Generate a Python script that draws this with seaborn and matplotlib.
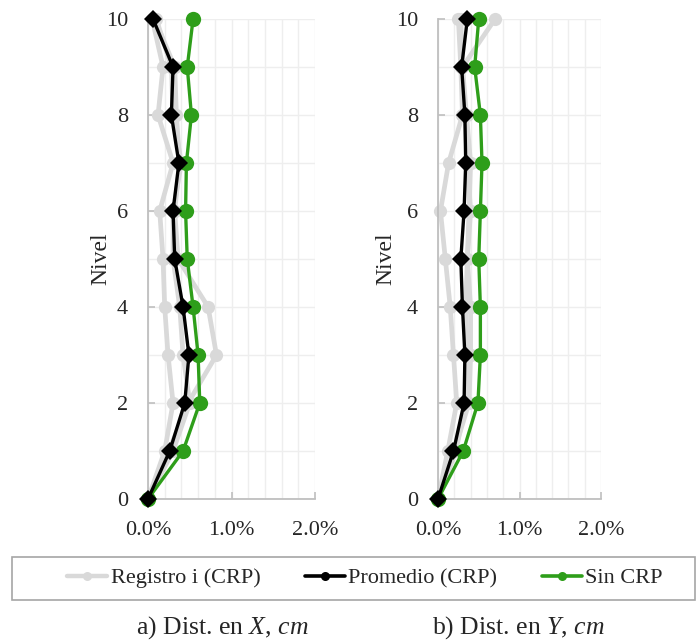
import matplotlib
matplotlib.use("Agg")
import matplotlib.pyplot as plt
from matplotlib.lines import Line2D
from matplotlib.patches import Rectangle
from matplotlib.ticker import MultipleLocator, FuncFormatter
import seaborn as sns

sns.set_theme(style="white")
plt.rcParams["font.family"] = ["Liberation Serif", "DejaVu Serif"]
plt.rcParams["mathtext.fontset"] = "custom"
plt.rcParams["mathtext.it"] = "Liberation Serif:italic"
plt.rcParams["mathtext.rm"] = "Liberation Serif"

niveles = [0, 1, 2, 3, 4, 5, 6, 7, 8, 9, 10]

# Drift profiles (%), direction X
x_registros = [
    [0, 0.20, 0.30, 0.24, 0.20, 0.18, 0.14, 0.30, 0.12, 0.18, 0.05],
    [0, 0.25, 0.48, 0.82, 0.72, 0.36, 0.32, 0.38, 0.34, 0.32, 0.08],
    [0, 0.30, 0.50, 0.42, 0.38, 0.30, 0.30, 0.40, 0.30, 0.28, 0.10],
]
x_promedio = [0, 0.26, 0.44, 0.49, 0.42, 0.32, 0.30, 0.37, 0.28, 0.30, 0.06]
x_sin_crp = [0, 0.42, 0.62, 0.60, 0.54, 0.47, 0.45, 0.46, 0.52, 0.47, 0.54]

# Drift profiles (%), direction Y
y_registros = [
    [0, 0.12, 0.23, 0.19, 0.15, 0.09, 0.03, 0.13, 0.30, 0.28, 0.25],
    [0, 0.20, 0.38, 0.40, 0.40, 0.36, 0.40, 0.36, 0.33, 0.30, 0.70],
    [0, 0.22, 0.34, 0.36, 0.34, 0.36, 0.38, 0.40, 0.35, 0.30, 0.28],
]
y_promedio = [0, 0.19, 0.32, 0.33, 0.30, 0.28, 0.32, 0.34, 0.33, 0.29, 0.36]
y_sin_crp = [0, 0.31, 0.49, 0.52, 0.52, 0.50, 0.52, 0.54, 0.52, 0.45, 0.50]

x_ticks = [0.0, 1.0, 2.0]
y_ticks = [0, 2, 4, 6, 8, 10]
legend_labels = ["Registro i (CRP)", "Promedio (CRP)", "Sin CRP"]
captions = ["a) Dist. en $\\mathit{X}$, $\\mathit{cm}$",
            "b) Dist. en $\\mathit{Y}$, $\\mathit{cm}$"]

GRAY = "#d9d9d9"
BLACK = "#000000"
GREEN = "#2e9e1a"
SPINE = "#bfbfbf"
GRID = "#eeeeee"

W, H = 698, 644
fig = plt.figure(figsize=(W / 100, H / 100), dpi=100)
ax_x = fig.add_axes([148 / W, 145 / H, 167 / W, 480 / H])
ax_y = fig.add_axes([438 / W, 145 / H, 163 / W, 480 / H])


def profile(ax, vals, **kw):
    sns.lineplot(x=vals, y=niveles, orient="y", sort=False, estimator=None,
                 ax=ax, clip_on=False, markeredgewidth=0, **kw)


for ax, regs, prom, sin, lab_x in [
        (ax_x, x_registros, x_promedio, x_sin_crp, 111),
        (ax_y, y_registros, y_promedio, y_sin_crp, 396)]:
    for reg in regs:
        profile(ax, reg, color=GRAY, lw=3.4, marker="o", markersize=9.5, zorder=2)
    profile(ax, sin, color=GREEN, lw=2.4, marker="o", markersize=11, zorder=3)
    profile(ax, prom, color=BLACK, lw=2.4, marker="D", markersize=9.5, zorder=4)

    ax.set_xlim(0, 2.0)
    ax.set_ylim(0, 10)
    ax.set_xticks(x_ticks)
    ax.xaxis.set_major_formatter(FuncFormatter(lambda v, p: f"{v:.1f}%"))
    ax.xaxis.set_minor_locator(MultipleLocator(0.2))
    ax.set_yticks(y_ticks)
    ax.yaxis.set_minor_locator(MultipleLocator(1))
    ax.grid(True, which="both", color=GRID, lw=1.0, zorder=0)
    ax.set_axisbelow(True)
    for side in ["top", "right"]:
        ax.spines[side].set_visible(False)
    for side in ["left", "bottom"]:
        ax.spines[side].set_color(SPINE)
        ax.spines[side].set_linewidth(1.3)
    ax.tick_params(axis="x", which="major", direction="in", length=5,
                   color=SPINE, width=1.2, labelsize=16, pad=16, bottom=True)
    ax.tick_params(axis="y", which="major", direction="in", length=5,
                   color=SPINE, width=1.2, labelsize=16, pad=14.5, left=True)
    ax.tick_params(which="minor", length=0)
    ax.set_xlabel("")
    ax.set_ylabel("Nivel", fontsize=17)
    x0 = ax.get_position().x0 * W
    ax.yaxis.set_label_coords((lab_x - x0) / (ax.get_position().width * W), 0.5)

# Legend frame spanning the figure width
fig.add_artist(Rectangle((12 / W, 44 / H), 683 / W, 43 / H,
                         transform=fig.transFigure, fill=False,
                         edgecolor="#a6a6a6", lw=1.2))
handles = [
    Line2D([], [], color=GRAY, lw=3.2, marker="o", markersize=6.5, markeredgewidth=0),
    Line2D([], [], color=BLACK, lw=2.6, marker="o", markersize=6.5, markeredgewidth=0),
    Line2D([], [], color=GREEN, lw=2.6, marker="o", markersize=6.5, markeredgewidth=0),
]
fig.legend(handles, legend_labels, loc="center",
           bbox_to_anchor=(365 / W, 66 / H), ncol=3, fontsize=16,
           frameon=False, handlelength=1.8, handletextpad=0.15,
           columnspacing=2.0, borderaxespad=0)

fig.text(222 / W, 16 / H, captions[0], ha="center", va="center", fontsize=18.5)
fig.text(518 / W, 16 / H, captions[1], ha="center", va="center", fontsize=18.5)

fig.savefig("out.png", dpi=100)
